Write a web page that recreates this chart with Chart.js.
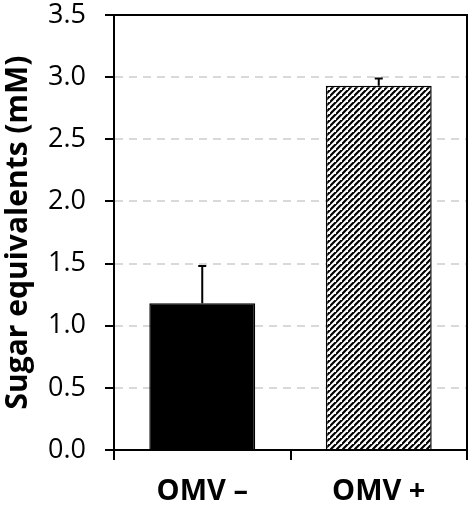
<!DOCTYPE html>
<html>
<head>
<meta charset="UTF-8">
<title>Sugar equivalents</title>
<script src="https://cdn.jsdelivr.net/npm/chart.js@4.4.0/dist/chart.umd.min.js"></script>
<style>
  html, body { margin: 0; padding: 0; background: #fff; }
  #wrap { width: 474px; height: 519px; }
</style>
</head>
<body>
<div id="wrap"><canvas id="myChart" width="474" height="519"></canvas></div>
<script>
// data
const labels = ['OMV \u2013', 'OMV +'];
const means = [1.18, 2.93];
const errors = [0.30, 0.06];
const yTicks = [0, 0.5, 1, 1.5, 2, 2.5, 3, 3.5];

// diagonal hatch for the second bar
function hatch() {
  const s = 6;
  const c = document.createElement('canvas');
  c.width = s; c.height = s;
  const g = c.getContext('2d');
  g.fillStyle = '#fff';
  g.fillRect(0, 0, s, s);
  g.strokeStyle = '#000';
  g.lineWidth = 2.2;
  g.beginPath();
  g.moveTo(-1, s + 1); g.lineTo(s + 1, -1);
  g.moveTo(-1 - s, s + 1); g.lineTo(1, -1);
  g.moveTo(s - 1, 2 * s + 1); g.lineTo(2 * s + 1, s - 1);
  g.stroke();
  return g.createPattern(c, 'repeat');
}

const errorBars = {
  id: 'errorBars',
  afterDatasetsDraw(chart) {
    const ctx = chart.ctx;
    const meta = chart.getDatasetMeta(0);
    const y = chart.scales.y;
    ctx.save();
    ctx.strokeStyle = '#000';
    ctx.lineWidth = 2;
    meta.data.forEach((bar, i) => {
      const x = bar.x;
      const top = y.getPixelForValue(means[i] + errors[i]);
      const base = y.getPixelForValue(means[i]);
      ctx.beginPath();
      ctx.moveTo(x, base); ctx.lineTo(x, top);
      ctx.moveTo(x - 4, top); ctx.lineTo(x + 4, top);
      ctx.stroke();
    });
    ctx.restore();
  }
};

const frame = {
  id: 'frame',
  afterDraw(chart) {
    const a = chart.chartArea;
    const ctx = chart.ctx;
    ctx.save();
    ctx.strokeStyle = '#000';
    ctx.lineWidth = 2;
    ctx.beginPath();
    ctx.moveTo(a.left, a.top); ctx.lineTo(a.right, a.top); ctx.lineTo(a.right, a.bottom);
    ctx.stroke();
    ctx.restore();
  }
};

new Chart('myChart', {
  type: 'bar',
  data: {
    labels: labels,
    datasets: [{
      data: means,
      backgroundColor: ['#000', hatch()],
      borderColor: '#000',
      borderWidth: 1.5,
      borderSkipped: 'bottom',
      barPercentage: 0.6,
      categoryPercentage: 1
    }]
  },
  options: {
    responsive: false,
    animation: false,
    events: [],
    layout: { padding: { top: 15, right: 7, left: 0, bottom: 0 } },
    plugins: { legend: { display: false }, tooltip: { enabled: false } },
    scales: {
      x: {
        grid: { display: true, offset: true, drawOnChartArea: false, drawTicks: true, tickLength: 10, color: '#000', lineWidth: 2 },
        border: { display: true, color: '#000', width: 2 },
        ticks: { color: '#000', font: { family: 'Open Sans', size: 29, weight: 'bold' }, padding: 14 },
        afterFit(s) { s.height = 69; s.paddingLeft = 0; s.paddingRight = 0; }
      },
      y: {
        min: 0, max: 3.5,
        afterBuildTicks(s) { s.ticks = yTicks.map(v => ({ value: v })); },
        grid: {
          color: (c) => (c.tick && (c.tick.value === 0 || c.tick.value === 3.5)) ? 'rgba(0,0,0,0)' : '#d9d9d9',
          lineWidth: 2,
          tickColor: '#000',
          tickLength: 9,
          tickWidth: 2,
          tickBorderDash: []
        },
        border: { display: true, color: '#000', width: 2, dash: [8, 6] },
        ticks: {
          color: '#000',
          font: { family: 'Open Sans', size: 27 },
          padding: 19,
          callback: (v) => Number(v).toFixed(1)
        },
        title: {
          display: true,
          text: 'Sugar equivalents (mM)',
          color: '#000',
          font: { family: 'Open Sans', size: 30, weight: 'bold' },
          padding: { top: 0, bottom: 0 }
        },
        afterFit(s) { s.width = 114; s.paddingTop = 0; s.paddingBottom = 0; }
      }
    }
  },
  plugins: [errorBars, frame]
});
</script>
</body>
</html>
